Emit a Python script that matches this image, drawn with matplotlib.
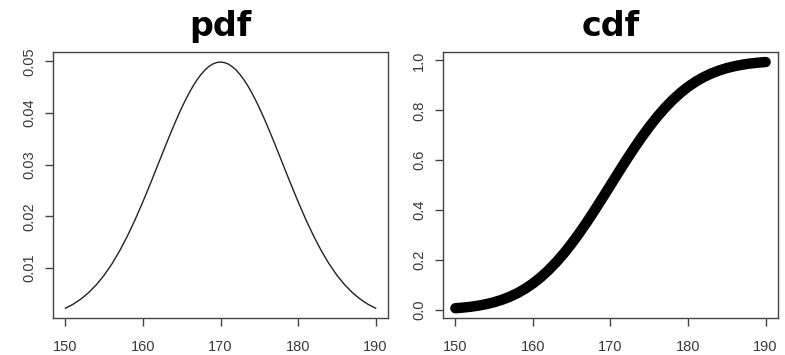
import matplotlib
matplotlib.use("Agg")
import matplotlib.pyplot as plt

# heights 150..190, values
height = list(range(150, 191))
pdf_vals = [0.00219, 0.00297, 0.00397, 0.00522, 0.00675, 0.00860, 0.01078,
            0.01332, 0.01619, 0.01938, 0.02283, 0.02648, 0.03025, 0.03401,
            0.03764, 0.04102, 0.04401, 0.04648, 0.04833, 0.04948, 0.04987,
            0.04948, 0.04833, 0.04648, 0.04401, 0.04102, 0.03764, 0.03401,
            0.03025, 0.02648, 0.02283, 0.01938, 0.01619, 0.01332, 0.01078,
            0.00860, 0.00675, 0.00522, 0.00397, 0.00297, 0.00219]
# extra half-step readings around the peak, where the curve bends most
peak_height = [163.5, 164.5, 165.5, 166.5, 167.5, 168.5, 169.5,
               170.5, 171.5, 172.5, 173.5, 174.5, 175.5, 176.5]
peak_vals = [0.03585, 0.03937, 0.04257, 0.04532, 0.04749, 0.04900, 0.04977,
             0.04977, 0.04900, 0.04749, 0.04532, 0.04257, 0.03937, 0.03585]
cdf_vals = [0.0062, 0.0088, 0.0122, 0.0168, 0.0228, 0.0304, 0.0401,
            0.0521, 0.0668, 0.0846, 0.1056, 0.1303, 0.1587, 0.1908,
            0.2266, 0.2660, 0.3085, 0.3538, 0.4013, 0.4503, 0.5000,
            0.5497, 0.5987, 0.6462, 0.6915, 0.7340, 0.7734, 0.8092,
            0.8413, 0.8697, 0.8944, 0.9154, 0.9332, 0.9479, 0.9599,
            0.9696, 0.9772, 0.9832, 0.9878, 0.9912, 0.9938]

x_ticks = [150, 160, 170, 180, 190]
pdf_ticks = [0.01, 0.02, 0.03, 0.04, 0.05]
cdf_ticks = [0.0, 0.2, 0.4, 0.6, 0.8, 1.0]

plt.rcParams["font.family"] = ["Liberation Sans", "DejaVu Sans"]

fig = plt.figure(figsize=(7.85, 3.55), dpi=100)
ax1 = fig.add_axes([0.0675, 0.104, 0.4268, 0.749])
ax2 = fig.add_axes([0.5643, 0.104, 0.4268, 0.749])


def r_extend(vals, frac=0.04):
    lo, hi = min(vals), max(vals)
    pad = (hi - lo) * frac
    return lo - pad, hi + pad


for ax in (ax1, ax2):
    for s in ax.spines.values():
        s.set_color("#444444")
        s.set_linewidth(1.0)
    ax.tick_params(direction="out", length=6, width=1, color="#444444",
                   labelsize=10.5, labelcolor="#3a3a3a")
    ax.tick_params(axis="x", pad=10)
    ax.tick_params(axis="y", labelrotation=90, pad=6)
    ax.set_xticks(x_ticks)
    ax.set_xlim(*r_extend(height))

# merge whole and half-step readings in x order
pts = sorted(zip(height + peak_height, pdf_vals + peak_vals))
ax1.plot([p[0] for p in pts], [p[1] for p in pts], color="#222222", lw=1.0)
ax1.set_ylim(*r_extend(pdf_vals))
ax1.set_yticks(pdf_ticks)
ax1.set_yticklabels([f"{t:.2f}" for t in pdf_ticks], va="center")
ax1.set_title("pdf", fontsize=24, fontweight="heavy",
              family=["DejaVu Sans"], pad=12)

ax2.plot(height, cdf_vals, color="black", lw=7.5, solid_capstyle="round")
ax2.set_ylim(*r_extend(cdf_vals))
ax2.set_yticks(cdf_ticks)
ax2.set_yticklabels([f"{t:.1f}" for t in cdf_ticks], va="center")
ax2.set_title("cdf", fontsize=24, fontweight="heavy",
              family=["DejaVu Sans"], pad=12)

fig.savefig("out.png", dpi=100, facecolor="white")
